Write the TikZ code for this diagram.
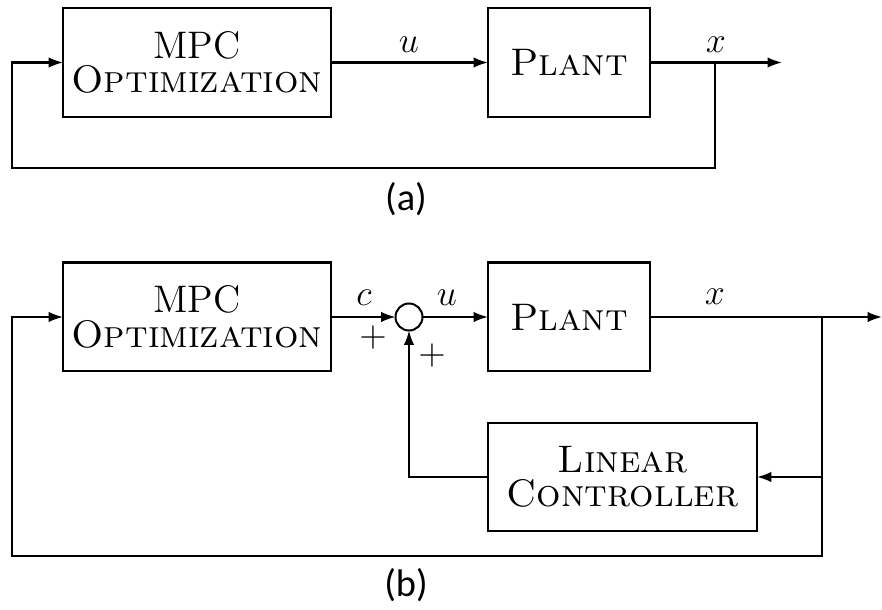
\documentclass[tikz,border=0pt]{standalone}
\usepackage{fontspec}
\newfontfamily\capfont{Carlito}
\usetikzlibrary{arrows.meta}
\begin{document}
\begin{tikzpicture}[x=0.33333pt,y=-0.33333pt,
  line width=0.67pt,
  >={Latex[length=4.8pt,width=3.5pt]},
  blk/.style={draw,rectangle,inner sep=0pt,outer sep=0pt,align=center,
    font=\fontsize{12.8}{11.5}\selectfont},
  sumj/.style={draw,circle,inner sep=0pt,outer sep=0pt,minimum size=9pt},
  lbl/.style={font=\fontsize{11.8}{13}\selectfont},
  subcap/.style={font=\capfont\fontsize{12.8}{14}\selectfont}]
\useasboundingbox (0,0) rectangle (882,610);
% ---------- (a)
\node[blk,minimum width=89.33pt,minimum height=36.33pt] (mpca) at (197,62.5) {MPC\\\textsc{Optimization}};
\node[blk,minimum width=54pt,minimum height=36.33pt] (planta) at (569,62.5) {\textsc{Plant}};
\coordinate (bra) at (715,62.5);
\coordinate (outa) at (782,62.5);
\coordinate (fa1) at (715,168);
\coordinate (fa2) at (12,168);
\draw[->] (mpca.east) -- (planta.west);
\node[lbl] (ua) at (409,45) {$u$};
\draw[->] (planta.east) -- (outa);
\node[lbl] (xa) at (716,45) {$x$};
\draw[->] (bra) -- (fa1) -- (fa2) |- (mpca.west);
\node[subcap] (capa) at (406,199) {(a)};
% ---------- (b)
\node[blk,minimum width=89.33pt,minimum height=36.33pt] (mpcb) at (197,317) {MPC\\\textsc{Optimization}};
\node[blk,minimum width=54pt,minimum height=36.33pt] (plantb) at (569,317) {\textsc{Plant}};
\node[blk,minimum width=89.67pt,minimum height=36pt] (lcb) at (622.5,477) {\textsc{Linear}\\\textsc{Controller}};
\node[sumj] (sum) at (409,317) {};
\coordinate (brb) at (822,317);
\coordinate (outb) at (882,317);
\coordinate (fb1) at (822,556);
\coordinate (fb2) at (12,556);
\draw[->] (mpcb.east) -- (sum.west);
\node[lbl] (cb) at (364,298) {$c$};
\node[lbl] (p1) at (373,338) {$+$};
\draw[->] (sum.east) -- (plantb.west);
\node[lbl] (ub) at (447,298) {$u$};
\draw[->] (plantb.east) -- (outb);
\node[lbl] (xb) at (715,297) {$x$};
\draw[->] (brb) |- (lcb.east);
\draw[->] (lcb.west) -| (sum.south);
\node[lbl] (p2) at (432,356) {$+$};
\draw[->] (brb) -- (fb1) -- (fb2) |- (mpcb.west);
\node[subcap] (capb) at (406,585) {(b)};
\end{tikzpicture}
\end{document}
